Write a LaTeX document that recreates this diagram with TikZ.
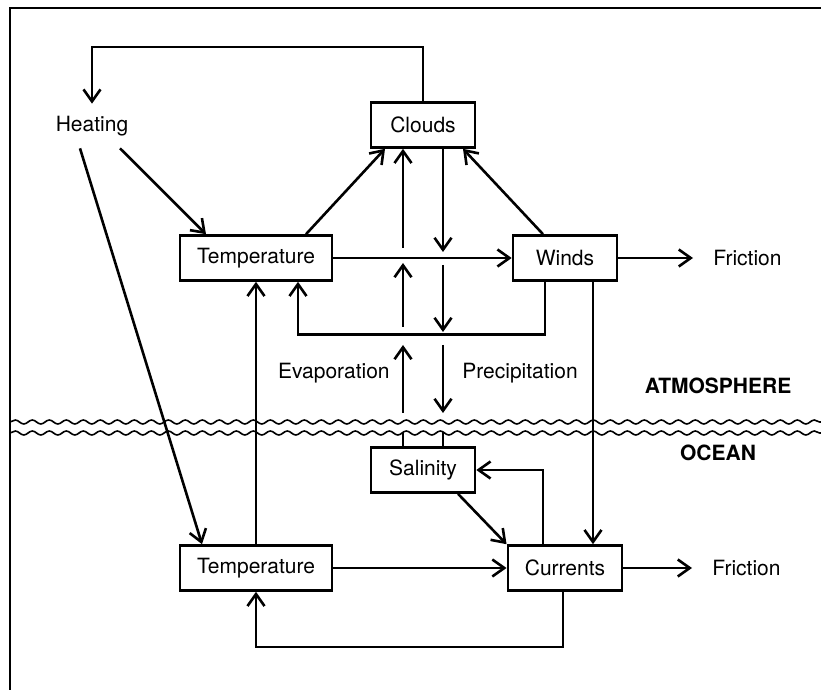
\documentclass[tikz,border=0pt]{standalone}
\usepackage{fontspec}
\setmainfont{TeX Gyre Heros}
\usetikzlibrary{arrows.meta,decorations.pathmorphing}

\begin{document}
\begin{tikzpicture}[
    x=0.5pt, y=-0.5pt,
    box/.style={
        draw,
        line width=1.3pt,
        minimum width=52pt,
        minimum height=22.5pt,
        inner xsep=8.5pt,
        align=center,
        font=\fontsize{10.5pt}{12pt}\selectfont
    },
    lbl/.style={
        font=\fontsize{10.5pt}{12pt}\selectfont
    },
    region/.style={
        font=\fontsize{10.5pt}{12pt}\selectfont\bfseries
    },
    arr/.style={
        -{Straight Barb[length=6pt,width=8.5pt]},
        line width=1.3pt
    },
    link/.style={
        line width=1.3pt
    },
    wave/.style={
        line width=0.8pt,
        decorate,
        decoration={snake,segment length=8.5pt,amplitude=1pt}
    }
]

\useasboundingbox (0,0) rectangle (821,690);
\draw[line width=1.3pt] (10,690) -- (10,8) -- (821,8);

% ---------------- Atmosphere ----------------
\node[lbl, inner ysep=6pt] (heating) at (92,126) {Heating};
\node[box] (clouds) at (423,125) {Clouds};
\node[box] (temp1) at (256,258) {Temperature};
\node[box] (winds) at (565,258) {Winds};
\node[lbl, anchor=west, inner sep=10pt] (friction1) at (693,258) {Friction};

\draw[arr] (clouds.north) -- ++(0,-54) -| (heating.north);
\draw[arr] ([xshift=14pt]heating.south) -- ([xshift=-25pt]temp1.north);
\draw[arr] ([xshift=25pt]temp1.north) -- ([xshift=-19pt]clouds.south);
\draw[arr] ([xshift=-11pt]winds.north) -- ([xshift=20pt]clouds.south);
\draw[arr] (temp1) -- (winds);
\draw[arr] (winds) -- (friction1);
\draw[arr] ([xshift=-10pt]winds.south) -- ++(0,53) -| ([xshift=21pt]temp1.south);

% ---------------- Evaporation / precipitation ----------------
\node[lbl, anchor=east, inner sep=0pt] (evap) at (390,373) {Evaporation};
\node[lbl, anchor=west, inner sep=0pt] (precip) at (462,373) {Precipitation};

\coordinate (evap1) at (403,413);
\coordinate (evap2) at (403,345);
\coordinate (evap3) at (403,327);
\coordinate (evap4) at (403,263);
\coordinate (evap5) at (403,248);
\coordinate (prec1) at (443,252);
\coordinate (prec2) at (443,265);
\coordinate (prec3) at (443,332);
\coordinate (prec4) at (443,345);
\coordinate (prec5) at (443,413);

\draw[arr] (evap1) -- (evap2);
\draw[arr] (evap3) -- (evap4);
\draw[arr] (evap5) -- ([xshift=-10pt]clouds.south);
\draw[arr] ([xshift=10pt]clouds.south) -- (prec1);
\draw[arr] (prec2) -- (prec3);
\draw[arr] (prec4) -- (prec5);

% ---------------- Sea surface ----------------
\draw[wave] (10,422) -- (821,422);
\draw[wave] (10,433) -- (821,433);

\node[region] (atmos) at (718,386) {ATMOSPHERE};
\node[region] (ocean) at (718,453) {OCEAN};

% ---------------- Ocean ----------------
\node[box] (salinity) at (423,470) {Salinity};
\node[box] (temp2) at (256,568) {Temperature};
\node[box] (currents) at (565,568) {Currents};
\node[lbl, anchor=west, inner sep=10pt] (friction2) at (692,568) {Friction};

\draw[link] ([xshift=-10pt]salinity.north) -- ++(0,-14);
\draw[link] ([xshift=10pt]salinity.north) -- ++(0,-14);

\draw[arr] ([xshift=-6pt]heating.south) -- ([xshift=-27pt]temp2.north);
\draw[arr] ([xshift=14pt]winds.south) -- ([xshift=14pt]currents.north);
\draw[arr] ([xshift=17.5pt]salinity.south) -- (currents.north west);
\draw[arr] ([xshift=-11pt]currents.north) |- (salinity.east);
\draw[arr] (temp2) -- (currents);
\draw[arr] (currents) -- (friction2);
\draw[arr] (temp2) -- (temp1);
\draw[arr] ([xshift=-1pt]currents.south) -- ++(0,55) -| (temp2.south);

\end{tikzpicture}
\end{document}
